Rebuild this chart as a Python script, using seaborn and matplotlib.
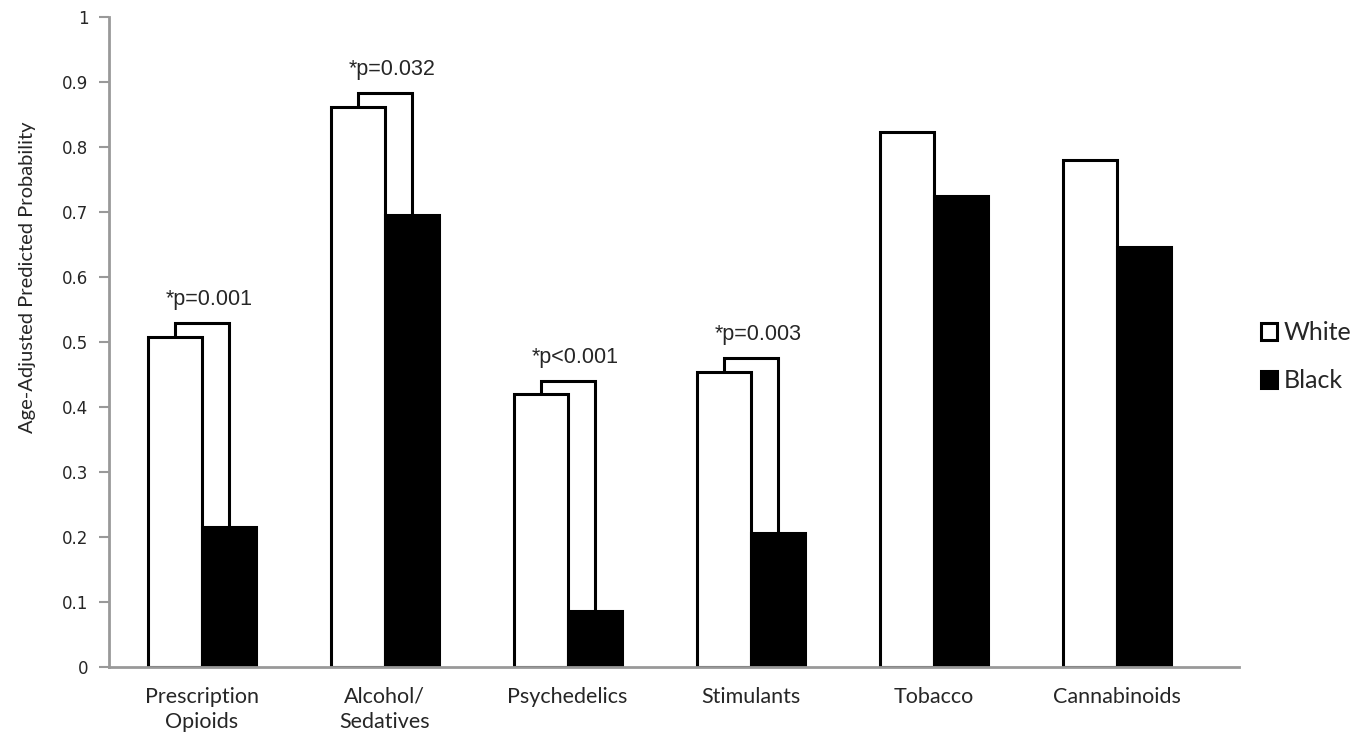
import numpy as np
import pandas as pd
import seaborn as sns
import matplotlib.pyplot as plt

# Values
categories = ["Prescription\nOpioids", "Alcohol/\nSedatives", "Psychedelics",
              "Stimulants", "Tobacco", "Cannabinoids"]
white = [0.508, 0.862, 0.420, 0.454, 0.823, 0.780]
black = [0.215, 0.695, 0.086, 0.206, 0.725, 0.646]
pvalues = ["*p=0.001", "*p=0.032", "*p<0.001", "*p=0.003", None, None]

df = pd.DataFrame({
    "category": categories * 2,
    "race": ["White"] * len(categories) + ["Black"] * len(categories),
    "prob": white + black,
})

sns.set_style("white")
fig = plt.figure(figsize=(13.68, 7.43), dpi=100)
ax = fig.add_axes([0.080, 0.102, 0.826, 0.875])

sns.barplot(data=df, x="category", y="prob", hue="race", order=categories,
            hue_order=["White", "Black"], palette={"White": "white", "Black": "black"},
            width=0.59, edgecolor="black", linewidth=2.2, ax=ax)

# significance brackets: from white bar centre, across, down to black bar centre
n = len(categories)
white_bars = ax.patches[:n]
black_bars = ax.patches[n:2 * n]
for i, p in enumerate(pvalues):
    if p is None:
        continue
    wb, bb = white_bars[i], black_bars[i]
    xw = wb.get_x() + wb.get_width() / 2
    xb = bb.get_x() + bb.get_width() / 2
    top = white[i] + 0.021
    ax.plot([xw, xw, xb, xb], [white[i], top, top, black[i]],
            color="black", lw=2.2, solid_joinstyle="miter", zorder=3)
    ax.text((xw + xb) / 2 + 0.04, top + 0.02, p, ha="center", va="bottom",
            fontsize=15.5, family="Liberation Sans")

ax.set_ylim(0, 1)
ax.set_xlim(-0.503, 5.67)
ax.set_yticks(np.arange(0, 1.01, 0.1))
ax.set_yticklabels(["0"] + [f"{v:.1f}" for v in np.arange(0.1, 0.95, 0.1)] + ["1"],
                   fontsize=12, family="DejaVu Sans")
ax.set_xticks(range(n))
ax.set_xticklabels(categories, fontsize=15.5, family="Lato", linespacing=1.35)
ax.set_xlabel("")
ax.set_ylabel("Age-Adjusted Predicted Probability", fontsize=14.5, family="Lato")
ax.yaxis.set_label_coords(-0.065, 0.60)

for s in ["top", "right"]:
    ax.spines[s].set_visible(False)
for s in ["left", "bottom"]:
    ax.spines[s].set_color("#999999")
    ax.spines[s].set_linewidth(2)
ax.tick_params(axis="y", which="major", direction="out", length=7, width=1.5,
               color="#999999", left=True, pad=8)
ax.tick_params(axis="x", length=0, pad=14)

handles, labels = ax.get_legend_handles_labels()
ax.legend(handles, labels, loc="center left", bbox_to_anchor=(0.905, 0.52),
          bbox_transform=fig.transFigure, frameon=False,
          prop={"family": "Lato", "size": 18}, handlelength=0.66, handleheight=0.66,
          handletextpad=0.25, labelspacing=1.0)

fig.savefig("out.png", dpi=100)
